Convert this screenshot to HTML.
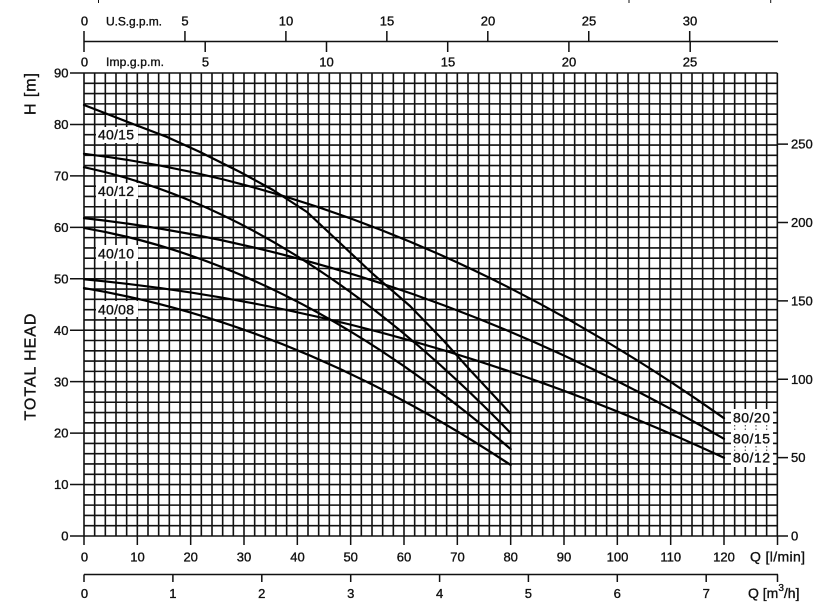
<!DOCTYPE html>
<html>
<head>
<meta charset="utf-8">
<style>
html,body{margin:0;padding:0;background:#fff;}
svg{display:block;}
text{font-family:"Liberation Sans",Arial,sans-serif;fill:#111;stroke:#111;stroke-width:0.35px;}
</style>
</head>
<body>
<svg width="820" height="606" viewBox="0 0 820 606" xmlns="http://www.w3.org/2000/svg">
<rect x="0" y="0" width="820" height="606" fill="#fff"/>

<!-- tiny marks at top -->
<path d="M98.5 0V3M629 0V3M770.7 0V3" stroke="#111" stroke-width="1"/>

<!-- grid -->
<path transform="translate(84,73) scale(10.666667,10.288889)" vector-effect="non-scaling-stroke" stroke="#111" stroke-width="1.6" fill="none"
d="M0 0V45M1 0V45M2 0V45M3 0V45M4 0V45M5 0V45M6 0V45M7 0V45M8 0V45M9 0V45M10 0V45M11 0V45M12 0V45M13 0V45M14 0V45M15 0V45M16 0V45M17 0V45M18 0V45M19 0V45M20 0V45M21 0V45M22 0V45M23 0V45M24 0V45M25 0V45M26 0V45M27 0V45M28 0V45M29 0V45M30 0V45M31 0V45M32 0V45M33 0V45M34 0V45M35 0V45M36 0V45M37 0V45M38 0V45M39 0V45M40 0V45M41 0V45M42 0V45M43 0V45M44 0V45M45 0V45M46 0V45M47 0V45M48 0V45M49 0V45M50 0V45M51 0V45M52 0V45M53 0V45M54 0V45M55 0V45M56 0V45M57 0V45M58 0V45M59 0V45M60 0V45M61 0V45M62 0V45M63 0V45M64 0V45M65 0V45
M0 0H65M0 1H65M0 2H65M0 3H65M0 4H65M0 5H65M0 6H65M0 7H65M0 8H65M0 9H65M0 10H65M0 11H65M0 12H65M0 13H65M0 14H65M0 15H65M0 16H65M0 17H65M0 18H65M0 19H65M0 20H65M0 21H65M0 22H65M0 23H65M0 24H65M0 25H65M0 26H65M0 27H65M0 28H65M0 29H65M0 30H65M0 31H65M0 32H65M0 33H65M0 34H65M0 35H65M0 36H65M0 37H65M0 38H65M0 39H65M0 40H65M0 41H65M0 42H65M0 43H65M0 44H65M0 45H65"/>

<!-- label boxes left -->
<rect x="96" y="127" width="42" height="16" fill="#fff"/>
<rect x="96" y="183" width="42" height="16" fill="#fff"/>
<rect x="96" y="245" width="42" height="16" fill="#fff"/>
<rect x="96" y="301" width="42" height="16" fill="#fff"/>
<!-- label box right -->
<rect x="731" y="409" width="42" height="58" fill="#fff"/>
<path d="M734.67 425V432M745.33 425V432M756 425V432M766.67 425V432M734.67 446V451M745.33 446V451M756 446V451M766.67 446V451" stroke="#555" stroke-width="1.2" stroke-dasharray="1.5 2" fill="none"/>

<!-- curves -->
<g fill="none" stroke="#000" stroke-width="2.2" stroke-linejoin="round" stroke-linecap="round">
<polyline points="84,105 133,124 167,137 200,152 240,172 273,190 307,212 340,243 373,274 410,306 443,340 470,370 510,413"/>
<path d="M84,167.2 Q297.3,212.4 510.7,433.1"/>
<path d="M84,227.9 Q297.3,264.7 510.7,449.1"/>
<path d="M84,288.1 Q297.3,323.9 510.7,465"/>
<path d="M84,153.8 Q404,192.3 724,418.2"/>
<path d="M84,218.1 Q404,253.5 724,438.8"/>
<path d="M84,279.3 Q404,308.9 724,457.8"/>
</g>

<!-- curve labels -->
<g font-size="14">
<text x="98" y="139.5" textLength="36">40/15</text>
<text x="98" y="196" textLength="36">40/12</text>
<text x="98" y="258.3" textLength="36">40/10</text>
<text x="98" y="314.3" textLength="36">40/08</text>
<text x="733" y="422.5" textLength="37">80/20</text>
<text x="733" y="443.5" textLength="37">80/15</text>
<text x="733" y="462.5" textLength="37">80/12</text>
</g>

<!-- top axes -->
<g stroke="#111" stroke-width="1.5" fill="none">
<path d="M84 41.5H778"/>
<path d="M84 31V52"/>
<path d="M184.95 31V41.5M285.9 31V41.5M386.85 31V41.5M487.8 31V41.5M588.75 31V41.5M689.7 31V41.5"/>
<path d="M205.2 41.5V52M326.5 41.5V52M447.7 41.5V52M568.9 41.5V52M690.2 41.5V52"/>
</g>
<g font-size="13" text-anchor="middle">
<text x="84.5" y="25.5">0</text>
<text x="185" y="25.5">5</text>
<text x="286" y="25.5">10</text>
<text x="387" y="25.5">15</text>
<text x="488" y="25.5">20</text>
<text x="589" y="25.5">25</text>
<text x="690" y="25.5">30</text>
<text x="84.5" y="66.5">0</text>
<text x="205.5" y="66.5">5</text>
<text x="326.5" y="66.5">10</text>
<text x="448" y="66.5">15</text>
<text x="569" y="66.5">20</text>
<text x="690" y="66.5">25</text>
</g>
<text x="106" y="25.5" font-size="12" textLength="56">U.S.g.p.m.</text>
<text x="106" y="66" font-size="12" textLength="58">Imp.g.p.m.</text>

<!-- left axis -->
<path d="M70 536H84M70 484.56H84M70 433.11H84M70 381.67H84M70 330.22H84M70 278.78H84M70 227.33H84M70 175.89H84M70 124.44H84M70 73H84" stroke="#111" stroke-width="1.5"/>
<g font-size="13" text-anchor="end">
<text x="68.5" y="540.6">0</text>
<text x="68.5" y="489.2">10</text>
<text x="68.5" y="437.7">20</text>
<text x="68.5" y="386.3">30</text>
<text x="68.5" y="334.8">40</text>
<text x="68.5" y="283.4">50</text>
<text x="68.5" y="231.9">60</text>
<text x="68.5" y="180.5">70</text>
<text x="68.5" y="129">80</text>
<text x="68.5" y="77.6">90</text>
</g>

<!-- right axis -->
<path d="M778 536H788M778 457.6H788M778 379.2H788M778 300.9H788M778 222.5H788M778 144.1H788" stroke="#111" stroke-width="1.5"/>
<g font-size="13">
<text x="791" y="540.6">0</text>
<text x="791" y="462.2">50</text>
<text x="791" y="383.8">100</text>
<text x="791" y="305.5">150</text>
<text x="791" y="227.1">200</text>
<text x="791" y="148.7">250</text>
</g>

<!-- bottom l/min axis -->
<path d="M84 536V545M137.33 536V545M190.67 536V545M244 536V545M297.33 536V545M350.67 536V545M404 536V545M457.33 536V545M510.67 536V545M564 536V545M617.33 536V545M670.67 536V545M724 536V545M777.5 536V545" stroke="#111" stroke-width="1.5"/>
<g font-size="13" text-anchor="middle">
<text x="84.5" y="561.5">0</text>
<text x="137.5" y="561.5">10</text>
<text x="190.7" y="561.5">20</text>
<text x="244" y="561.5">30</text>
<text x="297.5" y="561.5">40</text>
<text x="350.7" y="561.5">50</text>
<text x="404" y="561.5">60</text>
<text x="457.5" y="561.5">70</text>
<text x="510.7" y="561.5">80</text>
<text x="564" y="561.5">90</text>
<text x="617.5" y="561.5">100</text>
<text x="670.7" y="561.5">110</text>
<text x="724" y="561.5">120</text>
</g>
<text x="750" y="561.5" font-size="14" textLength="55">Q [l/min]</text>

<!-- bottom m3/h axis -->
<g stroke="#111" stroke-width="1.5" fill="none">
<path d="M84 574.5H778"/>
<path d="M84 574.5V582M172.9 574.5V582M261.8 574.5V582M350.7 574.5V582M439.6 574.5V582M528.4 574.5V582M617.3 574.5V582M706.2 574.5V582M777.5 574.5V582"/>
</g>
<g font-size="13" text-anchor="middle">
<text x="84.5" y="598">0</text>
<text x="172.9" y="598">1</text>
<text x="261.8" y="598">2</text>
<text x="350.7" y="598">3</text>
<text x="439.6" y="598">4</text>
<text x="528.4" y="598">5</text>
<text x="617.3" y="598">6</text>
<text x="706.2" y="598">7</text>
</g>
<text x="748" y="598" font-size="14">Q [m<tspan font-size="10" dy="-7">3</tspan><tspan dy="7">/h]</tspan></text>

<!-- vertical titles -->
<text transform="translate(35.5,94) rotate(-90)" font-size="16" text-anchor="middle" textLength="42">H [m]</text>
<text transform="translate(35.5,367) rotate(-90)" font-size="16" text-anchor="middle" textLength="107">TOTAL HEAD</text>
</svg>
</body>
</html>
